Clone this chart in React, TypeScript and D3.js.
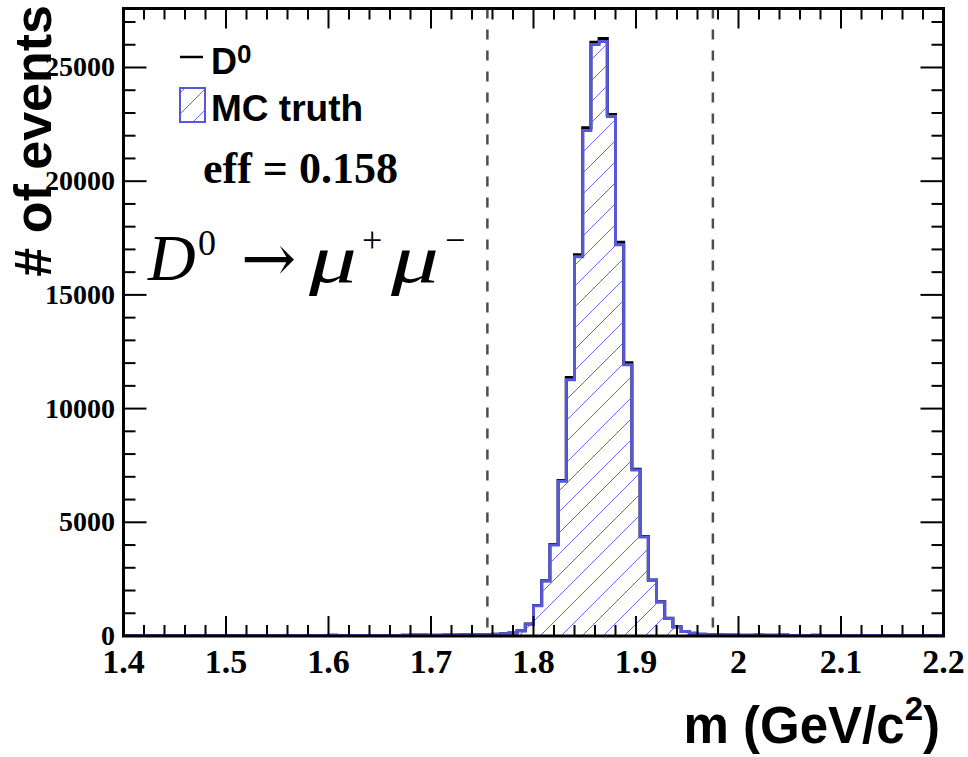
import React from "react";
import * as d3 from "d3";

// ---- data ----
const xMin = 1.4;
const xMax = 2.2;
const nBins = 100;

// MC truth (blue, hatched) bin contents, 100 bins of 0.008 GeV from 1.4 to 2.2
const mcTruth: number[] = [
  8, 6, 10, 7, 9, 12, 8, 10, 11, 9,
  12, 10, 14, 11, 13, 15, 12, 16, 14, 13,
  15, 18, 16, 20, 22, 38, 18, 21, 19, 24,
  20, 22, 25, 24, 28, 40, 45, 30, 32, 45,
  48, 50, 52, 55, 60, 75, 95, 130, 233, 520,
  1334, 2420, 4005, 6800, 11270, 16680, 22230, 26010, 26140, 22840,
  17210, 11930, 7300, 4350, 2450, 1500, 775, 400, 200, 120,
  80, 60, 50, 45, 40, 38, 35, 42, 30, 28,
  40, 26, 25, 24, 30, 22, 20, 21, 19, 18,
  17, 20, 16, 15, 14, 13, 15, 12, 11, 10,
];

// D0 (black line) bin contents
const d0: number[] = [
  8, 6, 10, 7, 9, 12, 8, 10, 11, 9,
  12, 10, 14, 11, 13, 15, 12, 16, 14, 13,
  15, 18, 16, 20, 22, 38, 18, 21, 19, 24,
  20, 22, 25, 24, 28, 40, 45, 30, 32, 45,
  48, 50, 52, 55, 60, 75, 95, 132, 236, 525,
  1340, 2430, 4020, 6835, 11370, 16770, 22350, 26110, 26280, 22930,
  17310, 12015, 7337, 4370, 2465, 1510, 780, 405, 202, 121,
  80, 60, 50, 45, 40, 38, 35, 42, 30, 28,
  40, 26, 25, 24, 30, 22, 20, 21, 19, 18,
  17, 20, 16, 15, 14, 13, 15, 12, 11, 10,
];

const xTickLabels = ["1.4", "1.5", "1.6", "1.7", "1.8", "1.9", "2", "2.1", "2.2"];
const xTickValues = [1.4, 1.5, 1.6, 1.7, 1.8, 1.9, 2.0, 2.1, 2.2];
const yTickValues = [0, 5000, 10000, 15000, 20000, 25000];
const yTickLabels = ["0", "5000", "10000", "15000", "20000", "25000"];
const windowCuts = [1.755, 1.975];
const effText = "eff = 0.158";

const BLUE = "#5757d9";
const HATCH = "#6a6ae6";

export default function App() {
  const W = 968;
  const H = 757;
  const L = 123.5, R = 943.5, T = 8.5, B = 636;
  const ymax = 1.05 * (d3.max(d0) as number);
  const x = d3.scaleLinear().domain([xMin, xMax]).range([L, R]);
  const y = d3.scaleLinear().domain([0, ymax]).range([B, T]);
  const bw = (xMax - xMin) / nBins;

  const stepPts = (vals: number[]) => {
    const pts: [number, number][] = [[x(xMin), y(0)]];
    vals.forEach((v, i) => {
      pts.push([x(xMin + i * bw), y(v)]);
      pts.push([x(xMin + (i + 1) * bw), y(v)]);
    });
    pts.push([x(xMax), y(0)]);
    return pts;
  };
  const line = d3.line<[number, number]>();
  const mcPath = line(stepPts(mcTruth)) as string;
  const d0Path = line(stepPts(d0)) as string;

  const xMinor = d3.range(0, 41).map((i) => xMin + i * 0.02);
  const yMinor = d3.range(0, Math.floor(ymax / 1000) + 1).map((i) => i * 1000);

  const serif = "'Liberation Serif', 'Times New Roman', serif";
  const sans = "'Liberation Sans', Arial, sans-serif";

  return (
    <svg width={W} height={H} style={{ position: "absolute", left: 0, top: 0, background: "#fff" }}>
      <defs>
        <pattern id="hatch" patternUnits="userSpaceOnUse" width={21} height={21}>
          <line x1={0} y1={21} x2={21} y2={0} stroke={HATCH} strokeWidth={1} />
          <line x1={-2} y1={2} x2={2} y2={-2} stroke={HATCH} strokeWidth={1} />
          <line x1={19} y1={23} x2={23} y2={19} stroke={HATCH} strokeWidth={1} />
        </pattern>
        <clipPath id="plotclip">
          <rect x={L} y={T} width={R - L} height={B - T} />
        </clipPath>
      </defs>
      <rect x={0} y={0} width={W} height={H} fill="#fff" />

      <g clipPath="url(#plotclip)">
        <path d={d0Path} fill="none" stroke="#000" strokeWidth={3} />
        <path d={mcPath} fill="url(#hatch)" stroke={BLUE} strokeWidth={3} />
      </g>

      {windowCuts.map((c) => (
        <line key={c} x1={x(c)} x2={x(c)} y1={T} y2={B} stroke="#4d4d4d" strokeWidth={2.5} strokeDasharray="10,11" />
      ))}

      {/* ticks */}
      {xMinor.map((v, i) => {
        const major = i % 5 === 0;
        const len = major ? 20 : 11;
        return (
          <g key={"xt" + i}>
            <line x1={x(v)} x2={x(v)} y1={B} y2={B - len} stroke="#000" strokeWidth={2} />
            <line x1={x(v)} x2={x(v)} y1={T} y2={T + len} stroke="#000" strokeWidth={2} />
          </g>
        );
      })}
      {yMinor.map((v, i) => {
        const major = i % 5 === 0;
        const len = major ? 23 : 12;
        return (
          <g key={"yt" + i}>
            <line x1={L} x2={L + len} y1={y(v)} y2={y(v)} stroke="#000" strokeWidth={2} />
            <line x1={R} x2={R - len} y1={y(v)} y2={y(v)} stroke="#000" strokeWidth={2} />
          </g>
        );
      })}

      <rect x={L} y={T} width={R - L} height={B - T} fill="none" stroke="#000" strokeWidth={3} />

      {/* tick labels */}
      {xTickValues.map((v, i) => (
        <text key={"xl" + i} x={x(v)} y={673} textAnchor="middle" fontFamily={serif} fontWeight="bold" fontSize={34}>
          {xTickLabels[i]}
        </text>
      ))}
      {yTickValues.map((v, i) => (
        <text key={"yl" + i} x={115} y={y(v)} dy="0.32em" textAnchor="end" fontFamily={serif} fontWeight="bold" fontSize={28}>
          {yTickLabels[i]}
        </text>
      ))}

      {/* axis titles */}
      <text transform="translate(51,5) rotate(-90)" textAnchor="end" fontFamily={sans} fontWeight="bold" fontSize={52}>
        # of events
      </text>
      <text x={940} y={743} textAnchor="end" fontFamily={sans} fontWeight="bold" fontSize={51}>
        m (GeV/c<tspan dy={-23} fontSize={33}>2</tspan><tspan dy={23}>)</tspan>
      </text>

      {/* legend */}
      <line x1={180} x2={203} y1={57} y2={57} stroke="#000" strokeWidth={2.5} />
      <text x={211} y={74} fontFamily={sans} fontWeight="bold" fontSize={36}>
        D<tspan dy={-11} fontSize={26}>0</tspan>
      </text>
      <rect x={180} y={88} width={25} height={34} fill="url(#hatch)" stroke={BLUE} strokeWidth={2} />
      <text x={211} y={120.5} fontFamily={sans} fontWeight="bold" fontSize={37}>
        MC truth
      </text>

      <text x={203} y={183} fontFamily={serif} fontWeight="bold" fontSize={44}>
        {effText}
      </text>

      {/* decay label */}
      <text x={148} y={280} fontFamily={serif} fontStyle="italic" fontSize={66}>D</text>
      <text x={198} y={255} fontFamily={serif} fontSize={36}>0</text>
      <text x={241} y={281} fontFamily="'DejaVu Serif', serif" fontSize={66}>→</text>
      <text x={309} y={282} fontFamily={serif} fontStyle="italic" fontSize={68} textLength={48} lengthAdjust="spacingAndGlyphs">μ</text>
      <text x={362} y={252} fontFamily={serif} fontSize={36}>+</text>
      <text x={391} y={282} fontFamily={serif} fontStyle="italic" fontSize={68} textLength={48} lengthAdjust="spacingAndGlyphs">μ</text>
      <text x={445} y={252} fontFamily={serif} fontSize={36}>−</text>
    </svg>
  );
}
